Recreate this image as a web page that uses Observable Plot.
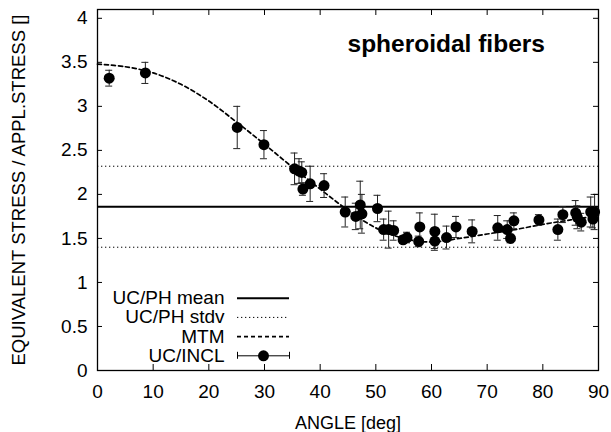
<!DOCTYPE html>
<html><head><meta charset="utf-8">
<script src="https://cdn.jsdelivr.net/npm/d3@7"></script>
<script src="https://cdn.jsdelivr.net/npm/@observablehq/plot@0.6"></script>
<style>body{margin:0;background:#fff;} svg{font-family:"Liberation Sans",Arial,Helvetica,sans-serif;}</style>
</head><body><div id="chart"></div>
<script>
// UC/INCL measurements: angle [deg], stress ratio, error (half-width)
const inclAngle = [2.1, 8.6, 25.1, 29.9, 35.4, 36.2, 36.7, 36.9, 38.2, 40.7, 44.5, 46.4, 47.2, 47.5, 50.3,
  51.4, 52.3, 53.2, 54.9, 55.6, 57.9, 57.7, 60.6, 60.6, 62.7, 64.4, 67.3, 71.9, 73.6, 74.2, 74.8,
  79.3, 82.7, 83.6, 85.9, 86.2, 86.9, 88.6, 89.0, 89.3];
const inclStress = [3.32, 3.38, 2.76, 2.565, 2.29, 2.265, 2.25, 2.06, 2.12, 2.10, 1.80, 1.75, 1.88, 1.78, 1.84,
  1.60, 1.60, 1.59, 1.485, 1.51, 1.63, 1.466, 1.58, 1.47, 1.51, 1.63, 1.58, 1.62, 1.60, 1.50, 1.70,
  1.71, 1.60, 1.77, 1.79, 1.74, 1.685, 1.80, 1.72, 1.80];
const inclError = [0.09, 0.12, 0.24, 0.16, 0.18, 0.14, 0.12, 0.07, 0.20, 0.135, 0.17, 0.15, 0.27, 0.22, 0.15,
  0.12, 0.21, 0.11, 0.04, 0.06, 0.16, 0.06, 0.195, 0.105, 0.13, 0.12, 0.13, 0.14, 0.10, 0.05, 0.09,
  0.06, 0.12, 0.09, 0.14, 0.13, 0.10, 0.17, 0.10, 0.20];
// MTM curve
const mtmAngle = [0, 5, 10, 15, 20, 25, 30, 35, 40, 45, 50, 55, 60, 65, 70, 75, 80, 85, 90];
const mtmStress = [3.48, 3.45, 3.38, 3.25, 3.06, 2.82, 2.57, 2.31, 2.06, 1.82, 1.62, 1.50, 1.46, 1.50, 1.55, 1.60, 1.66, 1.71, 1.76];
// UC/PH
const phMean = 1.86;
const phStdv = 0.46;

const xTicks = [0, 10, 20, 30, 40, 50, 60, 70, 80, 90];
const yTicks = [0, 0.5, 1, 1.5, 2, 2.5, 3, 3.5, 4];
const legendLabels = ["UC/PH mean", "UC/PH stdv", "MTM", "UC/INCL"];
const titleText = "spheroidal fibers";
const xLabel = "ANGLE [deg]";
const yLabel = "EQUIVALENT STRESS / APPL.STRESS []";

// layout
const W = 611, H = 432, mL = 97, mR = 13, mT = 9, mB = 62;
const innerW = W - mL - mR, innerH = H - mT - mB;
const xDomain = [0, 90], yDomain = [0, 4.1];
const xs = d3.scaleLinear(xDomain, [mL, W - mR]);
const ys = d3.scaleLinear(yDomain, [H - mB, mT]);
const capHalf = xs.invert(mL + 3.5) - xDomain[0];
const fs = 19;

const pts = inclAngle.map((a, i) => ({a, s: inclStress[i], e: inclError[i]}));
const mtm = mtmAngle.map((a, i) => ({a, s: mtmStress[i]}));

// legend placement (pixel layout converted to data units)
const lgText = xs.invert(224), lg1 = xs.invert(237), lg2 = xs.invert(289), lgMid = xs.invert(263);
const lgItems = legendLabels.map((label, i) => ({label, i, y: ys.invert(297.7 + i * 19.2)}));
const lgCapHalf = ys.invert(H - mB - 3.5) - yDomain[0];

const chart = Plot.plot({
  width: W, height: H,
  marginLeft: mL, marginRight: mR, marginTop: mT, marginBottom: mB,
  style: {fontFamily: '"Liberation Sans", Arial, sans-serif', fontSize: fs + "px", background: "#fff", color: "#000"},
  x: {domain: xDomain},
  y: {domain: yDomain},
  marks: [
    // UC/PH stdv
    Plot.ruleY([phMean - phStdv, phMean + phStdv], {stroke: "#000", strokeWidth: 1, strokeDasharray: "1.3,2.7"}),
    // UC/PH mean
    Plot.ruleY([phMean], {stroke: "#000", strokeWidth: 2}),
    // MTM
    Plot.line(mtm, {x: "a", y: "s", stroke: "#000", strokeWidth: 1.7, strokeDasharray: "4,3", curve: "catmull-rom"}),
    // error bars
    Plot.ruleX(pts, {x: "a", y1: d => d.s - d.e, y2: d => d.s + d.e, stroke: "#222", strokeWidth: 1}),
    Plot.ruleY(pts, {y: d => d.s + d.e, x1: d => d.a - capHalf, x2: d => d.a + capHalf, stroke: "#222", strokeWidth: 1}),
    Plot.ruleY(pts, {y: d => d.s - d.e, x1: d => d.a - capHalf, x2: d => d.a + capHalf, stroke: "#222", strokeWidth: 1}),
    Plot.dot(pts, {x: "a", y: "s", r: 5.5, fill: "#000"}),
    // frame & ticks (inward, mirrored)
    Plot.frame({stroke: "#000", strokeWidth: 1.3}),
    Plot.tickX(xTicks, {x: d => d, insetTop: innerH - 6, stroke: "#000"}),
    Plot.tickX(xTicks, {x: d => d, insetBottom: innerH - 6, stroke: "#000"}),
    Plot.tickY(yTicks, {y: d => d, insetRight: innerW - 5, stroke: "#000"}),
    Plot.tickY(yTicks, {y: d => d, insetLeft: innerW - 5, stroke: "#000"}),
    Plot.axisX({ticks: xTicks, tickSize: 0, tickPadding: 14, fontSize: fs, label: null, tickFormat: d => String(d)}),
    Plot.axisY({ticks: yTicks, tickSize: 0, tickPadding: 10, fontSize: fs, label: null, tickFormat: d => String(d)}),
    // axis labels
    Plot.text([xLabel], {frameAnchor: "bottom", lineAnchor: "middle", textAnchor: "middle", dy: 53, fontSize: 18, text: d => d}),
    Plot.text([yLabel], {frameAnchor: "left", lineAnchor: "middle", textAnchor: "middle", dx: -78, rotate: -90, fontSize: 18.5, text: d => d}),
    // title
    Plot.text([titleText], {frameAnchor: "top-left", lineAnchor: "top", textAnchor: "start", dx: 250, dy: 25, fontSize: 24.5, fontWeight: "bold", text: d => d}),
    // legend
    Plot.text(lgItems, {x: () => lgText, y: "y", text: "label", textAnchor: "end", fontSize: fs}),
    Plot.ruleY(lgItems.filter(d => d.i === 0), {y: "y", x1: () => lg1, x2: () => lg2, stroke: "#000", strokeWidth: 2}),
    Plot.ruleY(lgItems.filter(d => d.i === 1), {y: "y", x1: () => lg1, x2: () => lg2, stroke: "#000", strokeWidth: 1, strokeDasharray: "1.3,2.7"}),
    Plot.ruleY(lgItems.filter(d => d.i === 2), {y: "y", x1: () => lg1, x2: () => lg2, stroke: "#000", strokeWidth: 1.7, strokeDasharray: "4,3"}),
    Plot.ruleY(lgItems.filter(d => d.i === 3), {y: "y", x1: () => lg1, x2: () => lg2, stroke: "#000", strokeWidth: 1}),
    Plot.ruleX(lgItems.filter(d => d.i === 3), {x: () => lg1, y1: d => d.y - lgCapHalf, y2: d => d.y + lgCapHalf, stroke: "#000", strokeWidth: 1}),
    Plot.ruleX(lgItems.filter(d => d.i === 3), {x: () => lg2, y1: d => d.y - lgCapHalf, y2: d => d.y + lgCapHalf, stroke: "#000", strokeWidth: 1}),
    Plot.dot(lgItems.filter(d => d.i === 3), {x: () => lgMid, y: "y", r: 5.5, fill: "#000"})
  ]
});
document.getElementById("chart").appendChild(chart);
</script>
</body></html>
